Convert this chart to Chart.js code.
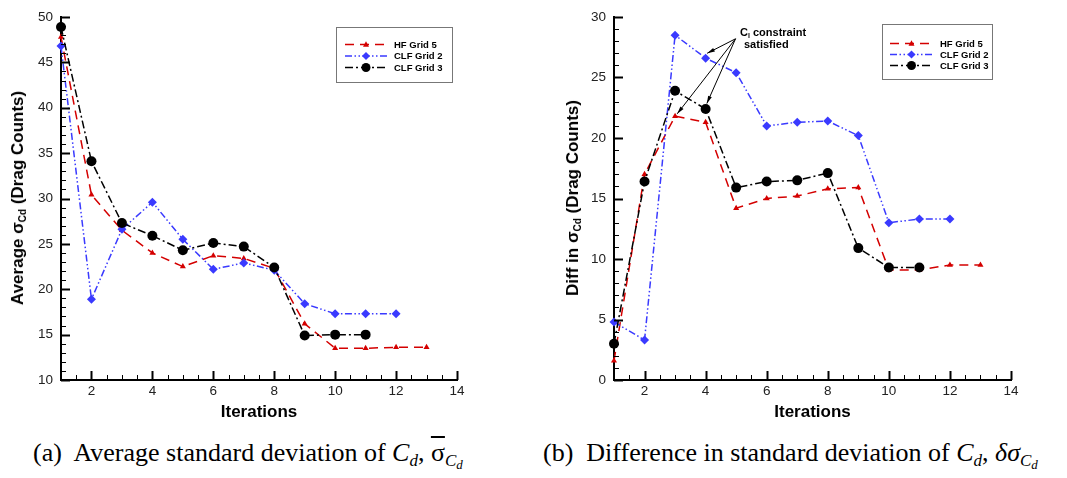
<!DOCTYPE html>
<html>
<head>
<meta charset="utf-8">
<script src="https://cdn.jsdelivr.net/npm/chart.js@4/dist/chart.umd.min.js"></script>
<style>
  body { margin: 0; background: #fff; }
  #wrap { position: relative; width: 1067px; height: 478px; overflow: hidden; background: #fff; }
  canvas { position: absolute; top: 0; }
  .ytitle {
    position: absolute; transform: translate(-50%, -50%) rotate(-90deg);
    white-space: nowrap; font: bold 17px "Liberation Sans", Arial, sans-serif; color: #000;
  }
  .ytitle sub { font-size: 10px; vertical-align: -3px; }
  .caption {
    position: absolute; top: 438px; white-space: nowrap;
    font: 26px "Liberation Serif", "Times New Roman", serif; color: #000;
  }
  .caption sub { font-size: 17px; vertical-align: -5px; }
  .caption sub sub { font-size: 13px; vertical-align: -3px; }
  .note { position: absolute; white-space: nowrap; font: bold 11px "Liberation Sans", Arial, sans-serif; }
  .note sub { font-size: 7px; vertical-align: -2px; }
</style>
</head>
<body>
<div id="wrap">
  <canvas id="avgChart" width="530" height="425" style="left:0px"></canvas>
  <canvas id="diffChart" width="527" height="425" style="left:540px"></canvas>
  <div class="ytitle" style="left:18px; top:198px">Average σ<sub>Cd</sub> (Drag Counts)</div>
  <div class="ytitle" style="left:573px; top:198px">Diff in σ<sub>Cd</sub> (Drag Counts)</div>
  <div class="note" style="left:740px; top:26px">C<sub>l</sub> constraint</div>
  <div class="note" style="left:744px; top:38px">satisfied</div>
  <div class="caption" style="left:33px">(a)&nbsp; Average standard deviation of <i>C<sub>d</sub></i>, <span style="text-decoration:overline">σ</span><sub><i>C<sub>d</sub></i></sub></div>
  <div class="caption" style="left:543px">(b)&nbsp; Difference in standard deviation of <i>C<sub>d</sub></i>, <i>δσ</i><sub><i>C<sub>d</sub></i></sub></div>
</div>
<script>
const iterations = [1, 2, 3, 4, 5, 6, 7, 8, 9, 10, 11, 12, 13];
const seriesNames = ['HF Grid 5', 'CLF Grid 2', 'CLF Grid 3'];
const xTicks = [2, 4, 6, 8, 10, 12, 14];

// (a) average sigma Cd
const avgHF   = [47.8, 30.4, 26.5, 24.0, 22.5, 23.7, 23.4, 22.3, 16.2, 13.5, 13.5, 13.6, 13.6];
const avgCLF2 = [46.8, 18.9, 26.6, 29.6, 25.5, 22.2, 22.9, 22.1, 18.4, 17.3, 17.3, 17.3];
const avgCLF3 = [48.9, 34.1, 27.3, 25.9, 24.3, 25.1, 24.7, 22.4, 14.9, 15.0, 15.0];

// (b) difference in sigma Cd
const diffHF   = [1.6, 17.0, 21.8, 21.3, 14.2, 15.0, 15.2, 15.8, 15.9, 9.1, 9.1, 9.5, 9.5];
const diffCLF2 = [4.8, 3.3, 28.5, 26.6, 25.4, 21.0, 21.3, 21.4, 20.2, 13.0, 13.3, 13.3];
const diffCLF3 = [3.0, 16.4, 23.9, 22.4, 15.9, 16.4, 16.5, 17.1, 10.9, 9.3, 9.3];

// Cl constraint arrows (data coords): start and the three tips
const noteFrom = [4.98, 28.2];
const noteTips = [[4.05, 27.0], [3.07, 22.0], [4.04, 22.85]];

const FONT = '"Liberation Sans", Arial, sans-serif';

const styles = [
  { borderColor: '#d40000', backgroundColor: '#d40000', borderDash: [9, 6], pointStyle: 'triangle', pointRadius: 3.5, order: 2 },
  { borderColor: '#3a3aff', backgroundColor: '#3a3aff', borderDash: [7, 2.5, 1.5, 2.5, 1.5, 2.5], pointStyle: 'rectRot', pointRadius: 4.5, order: 1 },
  { borderColor: '#000000', backgroundColor: '#000000', borderDash: [8, 3, 2, 3], pointStyle: 'circle', pointRadius: 5, order: 0 }
];

function toPoints(vals) {
  return vals.map((v, i) => ({ x: iterations[i], y: v }));
}

function marker(ctx, style, r, x, y) {
  ctx.beginPath();
  if (style === 'circle') {
    ctx.arc(x, y, r, 0, Math.PI * 2);
  } else if (style === 'rectRot') {
    ctx.moveTo(x, y - r); ctx.lineTo(x + r, y); ctx.lineTo(x, y + r); ctx.lineTo(x - r, y);
  } else {
    const h = r * 1.5;
    ctx.moveTo(x, y - r); ctx.lineTo(x + r * 0.95, y + h * 0.5); ctx.lineTo(x - r * 0.95, y + h * 0.5);
  }
  ctx.closePath();
  ctx.fill();
}

// inward major / minor ticks (tecplot style)
function drawTicks(chart) {
  const ctx = chart.ctx;
  const xs = chart.scales.x, ys = chart.scales.y;
  const x0 = xs.left, yb = ys.bottom;
  ctx.save();
  ctx.setLineDash([]);
  ctx.strokeStyle = '#000';
  for (let k = 0; k <= 26; k++) {
    const v = 1 + k * 0.5;
    const major = k % 4 === 2;
    const px = Math.round(xs.getPixelForValue(v)) + 0.5;
    ctx.lineWidth = major ? 2 : 1;
    ctx.beginPath(); ctx.moveTo(px, yb); ctx.lineTo(px, yb - (major ? 9 : 5)); ctx.stroke();
  }
  for (let v = ys.min; v <= ys.max; v++) {
    const major = v % 5 === 0;
    const py = Math.round(ys.getPixelForValue(v)) + 0.5;
    ctx.lineWidth = major ? 2 : 1;
    ctx.beginPath(); ctx.moveTo(x0, py); ctx.lineTo(x0 + (major ? 9 : 5), py); ctx.stroke();
  }
  ctx.restore();
}

// legend box inside the plot
function drawLegend(chart, b) {
  const { ctx, chartArea } = chart;
  const bx = chartArea.left + b.x, by = chartArea.top + b.y;
  ctx.save();
  ctx.fillStyle = '#fff';
  ctx.fillRect(bx, by, b.w, b.h);
  ctx.strokeStyle = '#777';
  ctx.lineWidth = 1;
  ctx.strokeRect(bx + 0.5, by + 0.5, b.w, b.h);
  chart.data.datasets.forEach((ds, i) => {
    const y = by + b.row0 + i * b.rowGap;
    const l0 = bx + b.line0, l1 = bx + b.line1;
    ctx.strokeStyle = ds.borderColor;
    ctx.lineWidth = 1.5;
    ctx.setLineDash(ds.borderDash);
    ctx.beginPath(); ctx.moveTo(l0, y); ctx.lineTo(l1, y); ctx.stroke();
    ctx.setLineDash([]);
    ctx.fillStyle = ds.backgroundColor;
    marker(ctx, ds.pointStyle, ds.pointRadius * 0.9, (l0 + l1) / 2, y);
    ctx.fillStyle = '#000';
    ctx.font = 'bold 9.5px ' + FONT;
    ctx.textBaseline = 'middle';
    ctx.fillText(ds.label, bx + b.text, y + 0.5);
  });
  ctx.restore();
}

// "Cl constraint satisfied" arrows
function drawArrows(chart, from, tips) {
  const ctx = chart.ctx;
  const xs = chart.scales.x, ys = chart.scales.y;
  const fx = xs.getPixelForValue(from[0]), fy = ys.getPixelForValue(from[1]);
  ctx.save();
  ctx.setLineDash([]);
  ctx.strokeStyle = '#000'; ctx.fillStyle = '#000'; ctx.lineWidth = 1;
  tips.forEach(t => {
    const tx = xs.getPixelForValue(t[0]), ty = ys.getPixelForValue(t[1]);
    const a = Math.atan2(ty - fy, tx - fx);
    ctx.beginPath(); ctx.moveTo(fx, fy); ctx.lineTo(tx, ty); ctx.stroke();
    ctx.beginPath();
    ctx.moveTo(tx, ty);
    ctx.lineTo(tx - 8 * Math.cos(a - 0.25), ty - 8 * Math.sin(a - 0.25));
    ctx.lineTo(tx - 8 * Math.cos(a + 0.25), ty - 8 * Math.sin(a + 0.25));
    ctx.closePath(); ctx.fill();
  });
  ctx.restore();
}

function decorations(legendBox, note) {
  return {
    id: 'decorations',
    afterDraw(chart) {
      drawTicks(chart);
      drawLegend(chart, legendBox);
      if (note) drawArrows(chart, note.from, note.tips);
    }
  };
}

function makeChart(id, series, yMin, yMax, yAxisWidth, pad, legendBox, note) {
  const ctx = document.getElementById(id).getContext('2d');
  return new Chart(ctx, {
    type: 'line',
    data: {
      datasets: series.map((vals, i) => Object.assign({
        label: seriesNames[i],
        data: toPoints(vals),
        borderWidth: 1.5,
        pointBorderWidth: 0,
        pointHoverRadius: 5,
        tension: 0,
        fill: false,
        clip: false
      }, styles[i]))
    },
    options: {
      responsive: false,
      animation: false,
      devicePixelRatio: 1,
      layout: { padding: pad },
      plugins: {
        legend: { display: false },
        tooltip: { enabled: false }
      },
      scales: {
        x: {
          type: 'linear',
          min: 1, max: 14,
          afterBuildTicks: s => { s.ticks = xTicks.map(v => ({ value: v })); },
          afterFit: s => { s.height = 45; },
          grid: { display: false, drawTicks: false },
          border: { display: true, color: '#000', width: 2 },
          ticks: { color: '#222', padding: 3, maxRotation: 0, font: { family: FONT, size: 13.5 } },
          title: { display: true, text: 'Iterations', color: '#000', padding: { top: 0, bottom: 2 },
                   font: { family: FONT, size: 17, weight: 'bold' } }
        },
        y: {
          min: yMin, max: yMax,
          afterFit: s => { s.width = yAxisWidth; },
          grid: { display: false, drawTicks: false },
          border: { display: true, color: '#000', width: 2 },
          ticks: { stepSize: 5, color: '#222', padding: 8, font: { family: FONT, size: 13.5 } }
        }
      }
    },
    plugins: [decorations(legendBox, note)]
  });
}

makeChart('avgChart', [avgHF, avgCLF2, avgCLF3], 10, 50, 61,
  { top: 17, right: 73, left: 0, bottom: 0 },
  { x: 275, y: 10, w: 116, h: 55, row0: 17.5, rowGap: 11.5, line0: 9, line1: 51, text: 58 });

makeChart('diffChart', [diffHF, diffCLF2, diffCLF3], 0, 30, 74,
  { top: 17, right: 56, left: 0, bottom: 0 },
  { x: 268, y: 7, w: 110, h: 55, row0: 19.5, rowGap: 11, line0: 8, line1: 51, text: 58 },
  { from: noteFrom, tips: noteTips });
</script>
</body>
</html>
